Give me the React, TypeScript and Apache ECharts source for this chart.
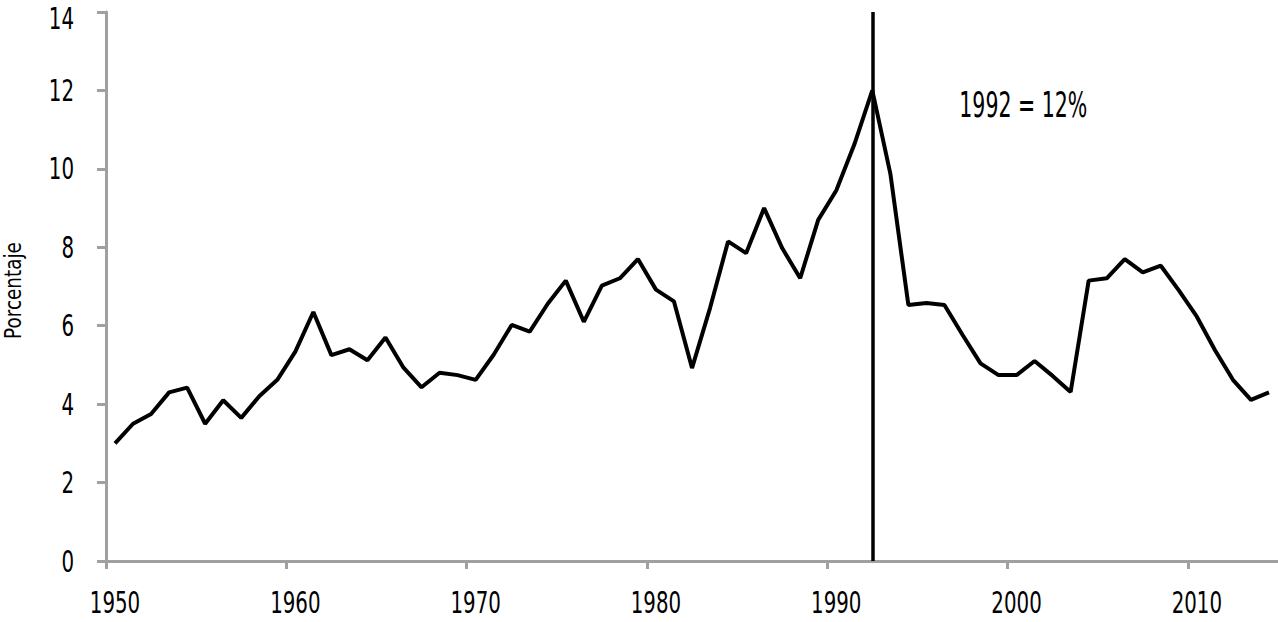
import React, { useEffect, useRef } from "react";
import * as echarts from "echarts";

const years: number[] = [
  1950, 1951, 1952, 1953, 1954, 1955, 1956, 1957, 1958, 1959,
  1960, 1961, 1962, 1963, 1964, 1965, 1966, 1967, 1968, 1969,
  1970, 1971, 1972, 1973, 1974, 1975, 1976, 1977, 1978, 1979,
  1980, 1981, 1982, 1983, 1984, 1985, 1986, 1987, 1988, 1989,
  1990, 1991, 1992, 1993, 1994, 1995, 1996, 1997, 1998, 1999,
  2000, 2001, 2002, 2003, 2004, 2005, 2006, 2007, 2008, 2009,
  2010, 2011, 2012, 2013, 2014,
];

const porcentaje: number[] = [
  3.0, 3.5, 3.75, 4.3, 4.42, 3.5, 4.1, 3.65, 4.2, 4.62,
  5.34, 6.35, 5.25, 5.4, 5.12, 5.7, 4.93, 4.43, 4.8, 4.74,
  4.62, 5.26, 6.02, 5.85, 6.56, 7.15, 6.1, 7.02, 7.21, 7.7,
  6.92, 6.62, 4.92, 6.45, 8.15, 7.85, 9.0, 7.98, 7.21, 8.7,
  9.45, 10.62, 12.0, 9.88, 6.53, 6.58, 6.53, 5.77, 5.04, 4.74,
  4.74, 5.1, 4.72, 4.31, 7.15, 7.21, 7.7, 7.36, 7.53, 6.9,
  6.23, 5.38, 4.62, 4.11, 4.3,
];

const xTickLabels: string[] = ["1950", "1960", "1970", "1980", "1990", "2000", "2010"];
const yTickLabels: string[] = ["0", "2", "4", "6", "8", "10", "12", "14"];

const highlightYear = 1992;
const highlightText = "1992 = 12%";
const yAxisTitle = "Porcentaje";

const FAMILY = '"DejaVu Sans", sans-serif';
const AXIS_GRAY = "#a0a0a0";

export default function App() {
  const ref = useRef<HTMLDivElement>(null);

  useEffect(() => {
    if (!ref.current) return;
    const chart = echarts.init(ref.current, undefined, { renderer: "svg" });
    const tickValues = xTickLabels.map((s) => Number(s));
    const xMin = tickValues[0];
    const yMax = Number(yTickLabels[yTickLabels.length - 1]);
    const yInterval = Number(yTickLabels[1]) - Number(yTickLabels[0]);

    chart.setOption({
      animation: false,
      backgroundColor: "#ffffff",
      grid: {
        left: 106,
        right: 0,
        top: 12,
        bottom: 61,
        containLabel: false,
        outerBoundsMode: "none",
      },
      xAxis: {
        type: "value",
        min: xMin,
        max: xMin + 65,
        interval: 10,
        splitLine: { show: false },
        axisLine: { show: true, lineStyle: { color: AXIS_GRAY, width: 3 } },
        axisTick: {
          show: true,
          length: 8,
          lineStyle: { color: AXIS_GRAY, width: 3 },
          customValues: tickValues,
        },
        axisLabel: { show: false },
      },
      yAxis: {
        type: "value",
        min: 0,
        max: yMax,
        interval: yInterval,
        splitLine: { show: false },
        axisLine: { show: true, lineStyle: { color: AXIS_GRAY, width: 3 } },
        axisTick: { show: true, length: 9, lineStyle: { color: AXIS_GRAY, width: 3 } },
        axisLabel: { show: false },
      },
      series: [
        {
          type: "line",
          data: years.map((y, i) => [y + 0.5, porcentaje[i]]),
          showSymbol: false,
          symbol: "none",
          lineStyle: { color: "#000", width: 4 },
          silent: true,
          markLine: {
            silent: true,
            symbol: ["none", "none"],
            label: { show: false },
            lineStyle: { color: "#000", width: 3.5, type: "solid" },
            data: [{ xAxis: highlightYear + 0.5 }],
          },
        },
      ],
    });

    // Axis labels drawn as condensed text, placed through the chart's own scales.
    const labelFont = `30px ${FAMILY}`;
    const graphics: any[] = [];
    xTickLabels.forEach((s) => {
      const p = chart.convertToPixel({ gridIndex: 0 }, [Number(s) + 0.5, 0]) as number[];
      graphics.push({
        type: "text",
        x: p[0],
        y: p[1] + 41,
        scaleX: 0.66,
        silent: true,
        style: {
          text: s,
          font: labelFont,
          lineHeight: 24,
          fill: "#000",
          textAlign: "center",
          textVerticalAlign: "middle",
        },
      });
    });
    yTickLabels.forEach((s) => {
      const p = chart.convertToPixel({ gridIndex: 0 }, [xMin, Number(s)]) as number[];
      graphics.push({
        type: "text",
        x: p[0] - 32,
        y: Math.max(p[1], 18),
        scaleX: 0.66,
        silent: true,
        style: {
          text: s,
          font: labelFont,
          lineHeight: 24,
          fill: "#000",
          textAlign: "right",
          textVerticalAlign: "middle",
        },
      });
    });
    const mid = chart.convertToPixel({ gridIndex: 0 }, [xMin, yMax / 2]) as number[];
    graphics.push({
      type: "text",
      x: 13,
      y: mid[1] + 4,
      rotation: Math.PI / 2,
      scaleX: 0.8,
      silent: true,
      style: {
        text: yAxisTitle,
        font: `23px ${FAMILY}`,
        lineHeight: 22,
        fill: "#000",
        textAlign: "center",
        textVerticalAlign: "middle",
      },
    });
    const peak = chart.convertToPixel({ gridIndex: 0 }, [highlightYear + 0.5, 12]) as number[];
    graphics.push({
      type: "text",
      x: peak[0] + 87,
      y: peak[1] + 14,
      scaleX: 0.57,
      silent: true,
      style: {
        text: highlightText,
        font: `36px ${FAMILY}`,
        lineHeight: 30,
        fill: "#000",
        textAlign: "left",
        textVerticalAlign: "middle",
      },
    });

    chart.setOption({ graphic: graphics });

    return () => chart.dispose();
  }, []);

  return (
    <div
      ref={ref}
      style={{ position: "absolute", left: 0, top: 0, width: 1278, height: 622 }}
    />
  );
}
